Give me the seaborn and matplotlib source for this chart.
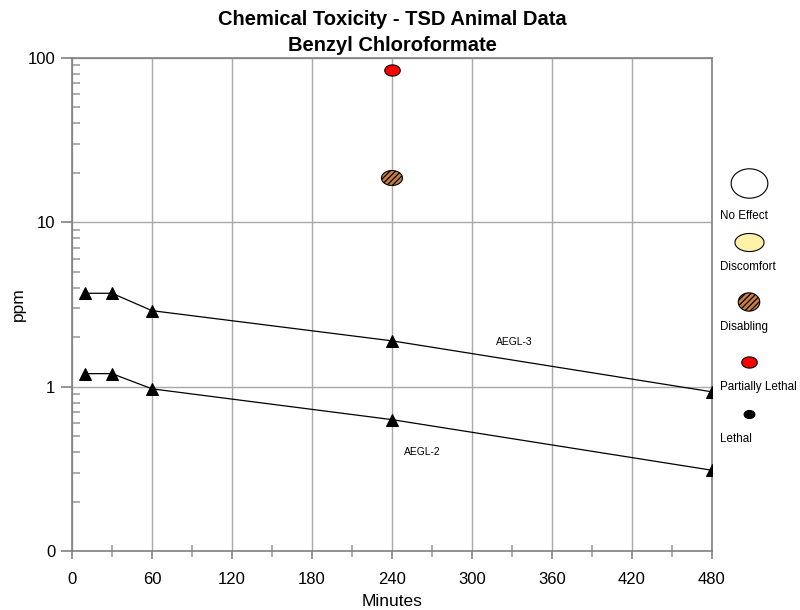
import numpy as np
import pandas as pd
import matplotlib
matplotlib.use('Agg')
import matplotlib.pyplot as plt
import matplotlib.ticker as mticker
import seaborn as sns

# AEGL levels (ppm) at exposure times (minutes)
aegl_minutes = [10, 30, 60, 240, 480]
aegl3_ppm = [3.7, 3.7, 2.9, 1.9, 0.93]
aegl2_ppm = [1.2, 1.2, 0.97, 0.63, 0.31]

# animal data points
animal_minutes = [240, 240]
animal_ppm = [84.5, 18.6]
animal_effect = ['Partially Lethal', 'Disabling']

legend_labels = ['No Effect', 'Discomfort', 'Disabling', 'Partially Lethal', 'Lethal']

sns.set_style('white')
plt.rcParams['font.family'] = ['Liberation Sans', 'DejaVu Sans']
plt.rcParams['text.color'] = 'black'
plt.rcParams['axes.labelcolor'] = 'black'
plt.rcParams['xtick.color'] = 'black'
plt.rcParams['ytick.color'] = 'black'
plt.rcParams['hatch.color'] = '#2a1a0a'
plt.rcParams['hatch.linewidth'] = 0.9


def ellipse(aspect):
    t = np.linspace(0, 2 * np.pi, 60)
    return np.column_stack([np.cos(t), aspect * np.sin(t)])


# marker look per effect: fill, size (pt^2), aspect, hatch
styles = {
    'No Effect': dict(fc='white', s=700, asp=0.8, hatch=None),
    'Discomfort': dict(fc='#fff2a8', s=440, asp=0.62, hatch=None),
    'Disabling': dict(fc='#c8803e', s=240, asp=0.85, hatch='//////'),
    'Partially Lethal': dict(fc='#ff0000', s=125, asp=0.72, hatch=None),
    'Lethal': dict(fc='black', s=60, asp=0.75, hatch=None),
}

fig = plt.figure(figsize=(8, 6.1), dpi=100)
ax = fig.add_axes([0.09, 0.0967, 0.80, 0.8083])

df3 = pd.DataFrame({'Minutes': aegl_minutes, 'ppm': aegl3_ppm})
df2 = pd.DataFrame({'Minutes': aegl_minutes, 'ppm': aegl2_ppm})
for d in (df3, df2):
    sns.lineplot(data=d, x='Minutes', y='ppm', ax=ax, color='black', lw=0.9,
                 marker='^', markersize=8, markeredgecolor='black', zorder=4)

animals = pd.DataFrame({'Minutes': animal_minutes, 'ppm': animal_ppm, 'effect': animal_effect})
for eff, sub in animals.groupby('effect'):
    st = styles[eff]
    asp = 0.71 if eff == 'Disabling' else st['asp']
    sns.scatterplot(data=sub, x='Minutes', y='ppm', ax=ax, marker=ellipse(asp),
                    s=230 if eff == 'Disabling' else st['s'],
                    color=st['fc'], edgecolor='black', linewidth=0.8,
                    hatch=st['hatch'], zorder=5, legend=False)

ax.set_yscale('log')
ax.set_xlim(0, 480)
ax.set_ylim(0.1, 100)
ax.set_xticks(range(0, 481, 60))
ax.set_xticks(range(30, 480, 60), minor=True)
ax.set_yticks([0.1, 1, 10, 100])
ax.set_yticklabels(['0', '1', '10', '100'])
ax.yaxis.set_minor_locator(mticker.LogLocator(base=10, subs=np.arange(2, 10)))
ax.yaxis.set_minor_formatter(mticker.NullFormatter())
ax.tick_params(axis='both', which='both', left=True, bottom=True)
ax.tick_params(axis='y', which='major', labelsize=12, direction='out', length=8,
               color='#808080', width=1.2, pad=4)
ax.tick_params(axis='x', which='major', labelsize=12, direction='out', length=6,
               color='#808080', width=1.2, pad=9)
ax.tick_params(axis='y', which='minor', direction='in', length=6,
               color='#a0a0a0', width=1.2)
ax.tick_params(axis='x', which='minor', direction='inout', length=8,
               color='#a0a0a0', width=1.2)
ax.grid(True, which='major', color='#a8a8a8', lw=1)
ax.set_axisbelow(True)
for sp in ax.spines.values():
    sp.set_color('#808080')
    sp.set_linewidth(1.2)

ax.set_xlabel('Minutes', fontsize=12.5, labelpad=5)
ax.set_ylabel('ppm', fontsize=12.5, labelpad=1)
ax.set_title('Chemical Toxicity - TSD Animal Data\nBenzyl Chloroformate',
             fontsize=14.5, fontweight='bold', pad=5, linespacing=1.45)

ax.text(332, 1.88, 'AEGL-3', fontsize=7.4, ha='center', va='center')
ax.text(263, 0.40, 'AEGL-2', fontsize=7.4, ha='center', va='center')

# legend panel (pixel layout on the right)
lax = fig.add_axes([0, 0, 1, 1], facecolor='none')
lax.set_xlim(0, 800)
lax.set_ylim(610, 0)
lax.axis('off')
leg_y = [183, 242, 302, 362, 414]
lab_y = [216, 267, 327, 387, 439]
for lab, y, ly in zip(legend_labels, leg_y, lab_y):
    st = styles[lab]
    lax.scatter([749], [y], marker=ellipse(st['asp']), s=st['s'], c=st['fc'],
                edgecolors='black', linewidths=0.8, hatch=st['hatch'])
    lax.text(720, ly, lab, fontsize=8.4, ha='left', va='center')

fig.savefig('out.png', dpi=100)
